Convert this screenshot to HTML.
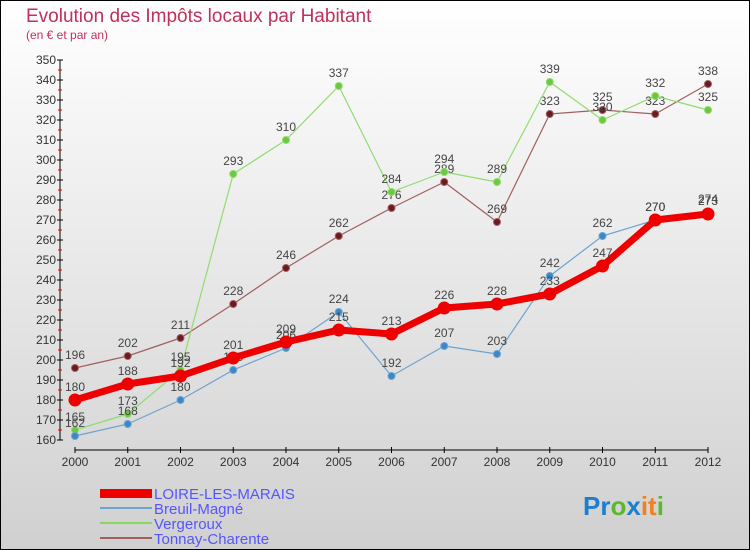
<!DOCTYPE html>
<html><head><meta charset="utf-8"><style>
body{margin:0}
#c{width:750px;height:550px;position:relative;box-sizing:border-box;border:1px solid #000;background:linear-gradient(#ffffff,#d0d0d0);font-family:"Liberation Sans",sans-serif;overflow:hidden}
</style></head><body>
<div id="c">
<svg id="s" width="750" height="550" style="position:absolute;left:-1px;top:-1px">
<text x="26" y="22" font-size="19" fill="#c0305a">Evolution des Impôts locaux par Habitant</text>
<text x="26" y="39" font-size="12" fill="#c0305a">(en € et par an)</text>
<g id="axes"></g><g id="series"></g>
<g font-size="15" fill="#5555ff">
<rect x="100" y="489" width="52" height="9" fill="#e00"/>
<text x="154" y="499">LOIRE-LES-MARAIS</text>
<line x1="100" y1="508" x2="152" y2="508" stroke="#6fa3d0" stroke-width="2"/>
<text x="154" y="514">Breuil-Magné</text>
<line x1="100" y1="523" x2="152" y2="523" stroke="#88d860" stroke-width="2"/>
<text x="154" y="529">Vergeroux</text>
<line x1="100" y1="538" x2="152" y2="538" stroke="#a06060" stroke-width="2"/>
<text x="154" y="544">Tonnay-Charente</text>
</g>
<g font-size="26" font-weight="bold">
<text x="583" y="515"><tspan fill="#1a7fd0">Pr</tspan><tspan fill="#5bb82c">o</tspan><tspan fill="#1a7fd0">x</tspan><tspan fill="#f08020">it</tspan><tspan fill="#5bb82c">i</tspan></text>
</g>
</svg>
</div>
<script>
const years=[2000,2001,2002,2003,2004,2005,2006,2007,2008,2009,2010,2011,2012];
const loire=[180,188,192,201,209,215,213,226,228,233,247,270,273];
const breuil=[162,168,180,195,206,224,192,207,203,242,262,270,274];
const vergeroux=[165,173,195,293,310,337,284,294,289,339,320,332,325];
const tonnay=[196,202,211,228,246,262,276,289,269,323,325,323,338];
const yTicks=[160,170,180,190,200,210,220,230,240,250,260,270,280,290,300,310,320,330,340,350];
const NS='http://www.w3.org/2000/svg';
const X=i=>75+i*(633/12);
const Y=v=>440-(v-160)*(380/190);
function mk(t,a,p){const e=document.createElementNS(NS,t);for(const k in a)e.setAttribute(k,a[k]);p.appendChild(e);return e;}
const ax=document.getElementById('axes');
let yl=mk('line',{x1:60,y1:Y(350),x2:60,y2:Y(160),stroke:'#000'},ax);


let xl=mk('line',{x1:X(0),y1:450,x2:X(12),y2:450,stroke:'#000'},ax);


yTicks.forEach((v,i)=>{
 mk('line',{x1:57,y1:Y(v),x2:63,y2:Y(v),stroke:'#000'},ax);
 if(i<yTicks.length-1)mk('line',{x1:58,y1:Y(v+5),x2:62,y2:Y(v+5),stroke:'#e00'},ax);
 const t=mk('text',{x:56,y:Y(v)+4,'font-size':12,fill:'#333','text-anchor':'end'},ax);t.textContent=v;
 
 
});
years.forEach((y,i)=>{
 mk('line',{x1:X(i),y1:447,x2:X(i),y2:453,stroke:'#000'},ax);
 const t=mk('text',{x:X(i),y:466,'font-size':12,fill:'#333','text-anchor':'middle'},ax);t.textContent=y;
 
 
});
const sg=document.getElementById('series');
function draw(data,color,w,r,dot,name){
 const g=mk('g',{},sg);
 
 
 mk('polyline',{points:data.map((v,i)=>X(i)+','+Y(v)).join(' '),fill:'none',stroke:color,'stroke-width':w,'stroke-linejoin':'round'},g);
 data.forEach((v,i)=>{
  const c=mk('circle',{cx:X(i),cy:Y(v),r:r,fill:dot,stroke:color,'stroke-width':1},g);
  
  
  const t=mk('text',{x:X(i),y:Y(v)-9,'font-size':12,fill:'#444','text-anchor':'middle'},g);t.textContent=v;
  
  
 });
}
draw(tonnay,'#a06060',1.2,3.5,'#6a1a20','tonnay');
draw(vergeroux,'#90dc70',1.2,3.5,'#6cc83c','vergeroux');
draw(breuil,'#6fa3d0',1.2,3.5,'#3a88c8','breuil');
draw(loire,'#ee0000',7,6,'#ee0000','loire');
</script>
</body></html>
